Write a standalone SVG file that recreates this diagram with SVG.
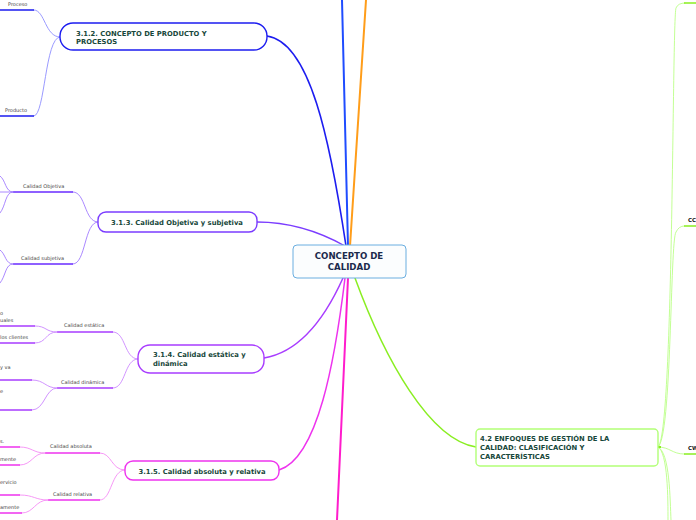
<svg xmlns="http://www.w3.org/2000/svg" width="696" height="520" viewBox="0 0 696 520">
<style>
.bg{fill:#ffffff}
.c{fill:none;stroke-linecap:round}
.node{fill:#ffffff;stroke-width:1.4}
.t{font-family:"DejaVu Sans","Verdana",sans-serif;font-weight:bold;font-size:6.8px;fill:#17473a}
.ct{font-family:"DejaVu Sans","Verdana",sans-serif;font-weight:bold;font-size:8.6px;fill:#1b2a4c}
.s{font-family:"DejaVu Sans","Verdana",sans-serif;font-size:5px;fill:#444444}
</style>
<rect class="bg" x="0" y="0" width="696" height="520"/>
<g id="connectors">
  <!-- center to top -->
  <path class="c" d="M348,246 L342,0" stroke="#1f4cff" stroke-width="2"/>
  <path class="c" d="M350,246 L366,0" stroke="#ff9d1a" stroke-width="2"/>
  <!-- center to 3.1.2 -->
  <path class="c" d="M346,246 C330,140 310,42 267,36" stroke="#1d1df0" stroke-width="1.6"/>
  <!-- center to 3.1.3 -->
  <path class="c" d="M345,246 C320,232 290,222 257,222" stroke="#7b3cff" stroke-width="1.4"/>
  <!-- center to 3.1.4 -->
  <path class="c" d="M343,278 C325,318 300,352 264,358" stroke="#a83cff" stroke-width="1.5"/>
  <!-- center to 3.1.5 -->
  <path class="c" d="M345,278 C335,360 318,458 279,470" stroke="#ee33ee" stroke-width="1.5"/>
  <!-- center down -->
  <path class="c" d="M348,278 L337,520" stroke="#ff1ccc" stroke-width="2"/>
  <!-- center to 4.2 -->
  <path class="c" d="M355,278 C385,360 430,440 476,447" stroke="#8aee22" stroke-width="1.5"/>

  <!-- 3.1.2 children -->
  <path class="c" d="M60,37 C45,37 45,10 34,10" stroke="#8f8fff" stroke-width="0.9"/>
  <path class="c" d="M60,37 C45,37 45,116 34,116" stroke="#8f8fff" stroke-width="0.9"/>
  <path d="M0,10 L34,10 M0,116 L34,116" stroke="#1d1df0" stroke-width="1.6"/>

  <!-- 3.1.3 children -->
  <path class="c" d="M98,222 C84,222 86,192 73,192" stroke="#a07aff" stroke-width="0.9"/>
  <path class="c" d="M98,222 C84,222 86,264 73,264" stroke="#a07aff" stroke-width="0.9"/>
  <path d="M13,192 L73,192 M13,264 L73,264" stroke="#6a2cff" stroke-width="1.6"/>
  <path class="c" d="M13,192 L0,192" stroke="#a07aff" stroke-width="0.9"/>
  <path class="c" d="M13,192 C5,192 6,180 0,176" stroke="#a07aff" stroke-width="0.9"/>
  <path class="c" d="M13,192 C5,192 6,206 0,213" stroke="#a07aff" stroke-width="0.9"/>
  <path class="c" d="M13,264 C5,264 6,254 0,250" stroke="#a07aff" stroke-width="0.9"/>
  <path class="c" d="M13,264 C5,264 6,276 0,283" stroke="#a07aff" stroke-width="0.9"/>

  <!-- 3.1.4 children -->
  <path class="c" d="M138,359 C124,359 126,332 113,332" stroke="#cc88ff" stroke-width="0.9"/>
  <path class="c" d="M138,359 C124,359 126,388 113,388" stroke="#cc88ff" stroke-width="0.9"/>
  <path d="M57,332 L113,332 M57,388 L113,388" stroke="#a83cff" stroke-width="1.6"/>
  <path class="c" d="M57,332 C45,332 47,326 35,326" stroke="#cc88ff" stroke-width="0.9"/>
  <path class="c" d="M57,332 C45,332 47,343 35,343" stroke="#cc88ff" stroke-width="0.9"/>
  <path class="c" d="M57,388 C45,388 45,380 32,380" stroke="#cc88ff" stroke-width="0.9"/>
  <path class="c" d="M57,388 C45,388 45,410 32,410" stroke="#cc88ff" stroke-width="0.9"/>
  <path d="M0,326 L35,326 M0,343 L35,343 M0,380 L32,380 M0,410 L32,410" stroke="#a83cff" stroke-width="1.4"/>

  <!-- 3.1.5 children -->
  <path class="c" d="M125,470 C111,470 112,453 100,453" stroke="#f58cf5" stroke-width="0.9"/>
  <path class="c" d="M125,470 C111,470 112,500 100,500" stroke="#f58cf5" stroke-width="0.9"/>
  <path d="M45,453 L100,453 M48,500 L100,500" stroke="#ee33ee" stroke-width="1.6"/>
  <path class="c" d="M45,453 C33,453 32,447 20,447" stroke="#f58cf5" stroke-width="0.9"/>
  <path class="c" d="M45,453 C33,453 32,465 20,465" stroke="#f58cf5" stroke-width="0.9"/>
  <path class="c" d="M48,500 C35,500 34,495 20,495" stroke="#f58cf5" stroke-width="0.9"/>
  <path class="c" d="M48,500 C35,500 34,513 22,513" stroke="#f58cf5" stroke-width="0.9"/>
  <path d="M0,447 L20,447 M0,465 L20,465 M0,495 L20,495 M0,513 L22,513" stroke="#ee33ee" stroke-width="1.4"/>

  <!-- 4.2 children -->
  <path class="c" d="M658,447 C674,440 672,20 676,8 Q678,3 685,3" stroke="#bbff88" stroke-width="0.9"/>
  <path class="c" d="M658,447 C672,440 670,240 676,232 Q679,226 684,226" stroke="#bbff88" stroke-width="0.9"/>
  <path class="c" d="M658,447 C670,447 672,454 684,454" stroke="#bbff88" stroke-width="0.9"/>
  <path class="c" d="M658,447 C668,452 668,500 668,520" stroke="#bbff88" stroke-width="0.9"/>
  <path class="c" d="M658,447 C670,452 670,500 671,520" stroke="#bbff88" stroke-width="0.9"/>
  <path d="M684,3 L696,3 M684,226 L696,226 M684,454 L696,454" stroke="#8aee22" stroke-width="1.6"/>
  <path d="M658,447 L661,447" stroke="#8aee22" stroke-width="2"/>
</g>

<g id="center">
  <rect x="293" y="245" width="113" height="33" rx="4" fill="#fbfdfe" stroke="#6aaee0" stroke-width="1"/>
  <text class="ct" x="349" y="259" text-anchor="middle">CONCEPTO DE</text>
  <text class="ct" x="349" y="270" text-anchor="middle">CALIDAD</text>
</g>

<g id="n312">
  <rect class="node" x="60" y="23" width="207" height="27" rx="13" stroke="#1d1df0"/>
  <text class="t" x="76" y="36">3.1.2. CONCEPTO DE PRODUCTO Y</text>
  <text class="t" x="76" y="44">PROCESOS</text>
</g>
<g id="n312a"><text class="s" x="8" y="6">Proceso</text></g>
<g id="n312b"><text class="s" x="5" y="112">Producto</text></g>

<g id="n313">
  <rect class="node" x="98" y="212" width="159" height="20" rx="8" stroke="#7b3cff"/>
  <text class="t" x="177" y="225" text-anchor="middle">3.1.3. Calidad Objetiva y subjetiva</text>
</g>
<g id="n313a"><text class="s" x="23" y="188">Calidad Objetiva</text></g>
<g id="n313b"><text class="s" x="21" y="260">Calidad subjetiva</text></g>

<g id="n314">
  <rect class="node" x="138" y="345" width="126" height="28" rx="12" stroke="#a83cff"/>
  <text class="t" x="153" y="357">3.1.4. Calidad estática y</text>
  <text class="t" x="153" y="366">dinámica</text>
</g>
<g id="n314a"><text class="s" x="64" y="327">Calidad estática</text></g>
<g id="n314b"><text class="s" x="61" y="384">Calidad dinámica</text></g>
<g id="n314a1"><text class="s" x="0" y="315">o</text><text class="s" x="0" y="322">uales</text></g>
<g id="n314a2"><text class="s" x="0" y="339">los clientes</text></g>
<g id="n314b1"><text class="s" x="0" y="369">y va</text></g>
<g id="n314b2"><text class="s" x="0" y="393">e</text></g>

<g id="n315">
  <rect class="node" x="125" y="461" width="154" height="19" rx="8" stroke="#ee33ee"/>
  <text class="t" x="202" y="474" text-anchor="middle">3.1.5. Calidad absoluta y relativa</text>
</g>
<g id="n315a"><text class="s" x="50" y="448">Calidad absoluta</text></g>
<g id="n315b"><text class="s" x="53" y="496">Calidad relativa</text></g>
<g id="n315a1"><text class="s" x="0" y="443">s.</text></g>
<g id="n315a2"><text class="s" x="0" y="461">mente</text></g>
<g id="n315b1"><text class="s" x="0" y="484">ervicio</text></g>
<g id="n315b2"><text class="s" x="0" y="509">amente</text></g>

<g id="n42">
  <rect class="node" x="476" y="429" width="182" height="37" rx="4" stroke="#b2ff77"/>
  <text class="t" x="480" y="441">4.2 ENFOQUES DE GESTIÓN DE LA</text>
  <text class="t" x="480" y="450">CALIDAD: CLASIFICACIÓN Y</text>
  <text class="t" x="480" y="459">CARACTERÍSTICAS</text>
</g>
<g id="n42b"><text class="t" x="688" y="222" style="font-size:5.5px;fill:#111">CC</text></g>
<g id="n42c"><text class="t" x="688" y="450" style="font-size:5.5px;fill:#111">CW</text></g>
</svg>
